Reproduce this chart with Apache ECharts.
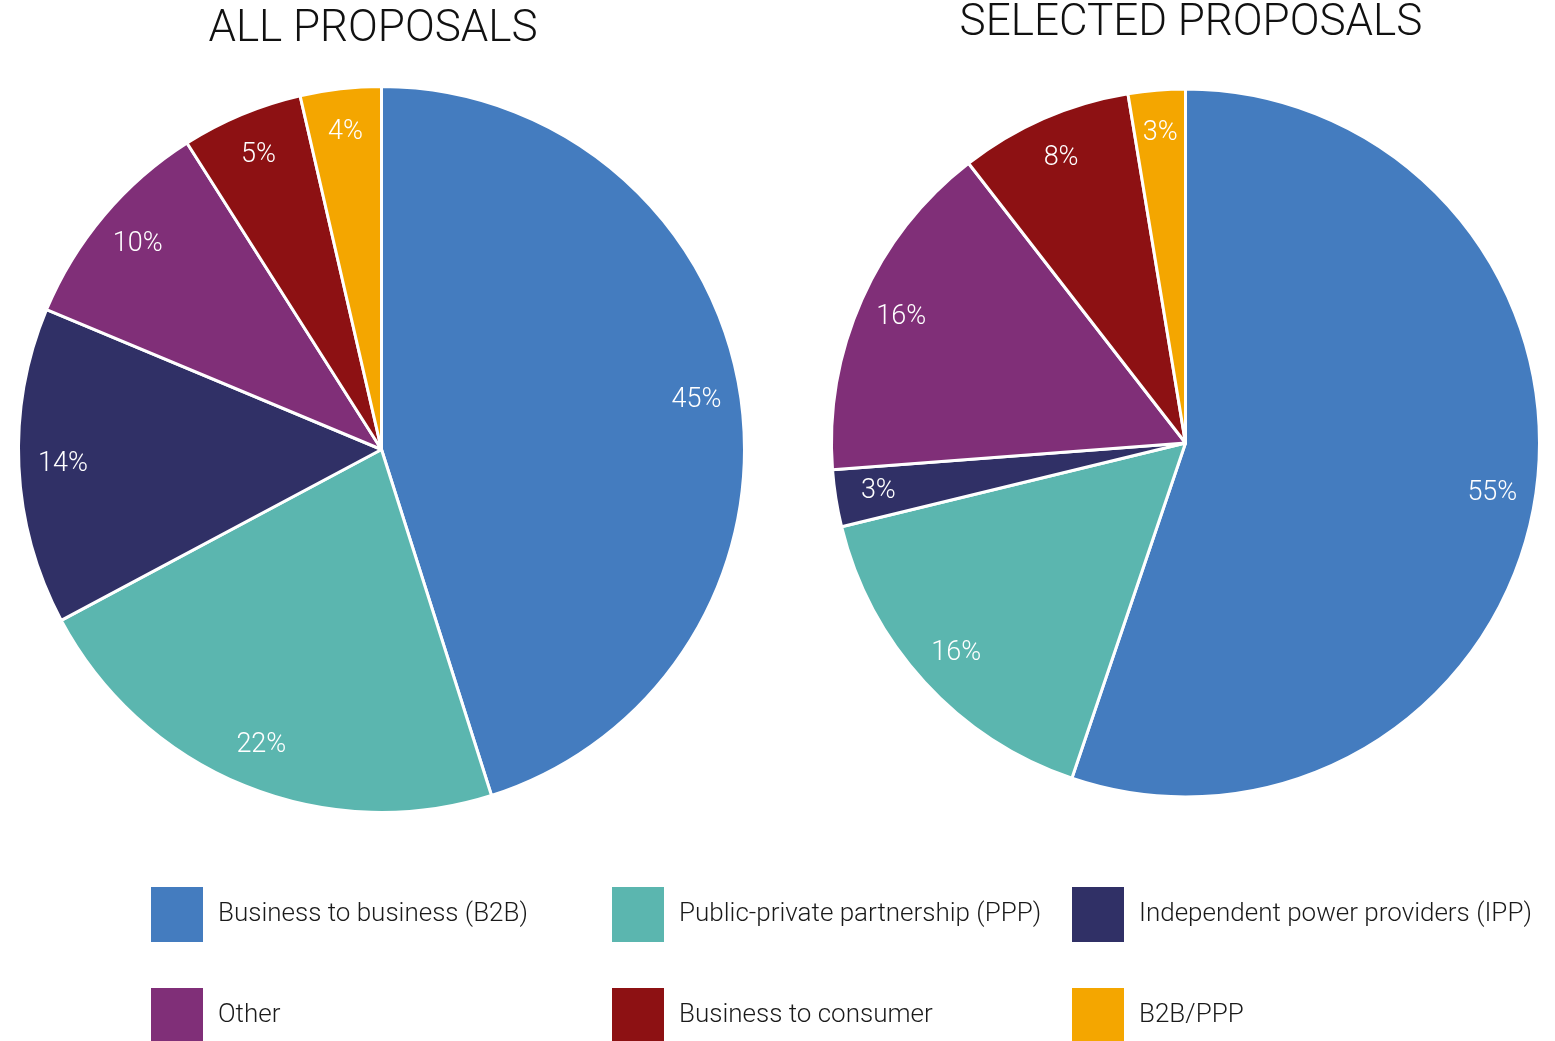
<!DOCTYPE html>
<html>
<head>
<meta charset="utf-8">
<script src="https://cdn.jsdelivr.net/npm/echarts@6/dist/echarts.min.js"></script>
<style>
  html, body { margin: 0; padding: 0; background: #fff; }
  #chart { width: 1555px; height: 1041px; }
</style>
</head>
<body>
<div id="chart"></div>
<script>
const categories = [
  'Business to business (B2B)',
  'Public-private partnership (PPP)',
  'Independent power providers (IPP)',
  'Other',
  'Business to consumer',
  'B2B/PPP'
];
const allProposals = [45.1, 22.1, 14.1, 9.7, 5.4, 3.6];
const selectedProposals = [55.2, 16.0, 2.6, 15.7, 7.9, 2.6];
const chartTitles = ['ALL PROPOSALS', 'SELECTED PROPOSALS'];

const colors = ['#447CBF', '#5BB6AF', '#303066', '#802F78', '#8D1113', '#F4A600'];
const FONT = 'Roboto, "Liberation Sans", sans-serif';

function toData(vals) {
  return categories.map((c, i) => ({ name: c, value: vals[i] }));
}

function pieSeries(vals, center, r) {
  return [
    {
      type: 'pie',
      center: center,
      radius: [0, r],
      startAngle: 90,
      clockwise: true,
      avoidLabelOverlap: false,
      label: { show: false },
      labelLine: { show: false },
      itemStyle: { borderColor: '#ffffff', borderWidth: 3 },
      emphasis: { disabled: true },
      data: toData(vals)
    },
    {
      type: 'pie',
      center: center,
      radius: [r * 0.74, r],
      startAngle: 90,
      clockwise: true,
      silent: true,
      legendHoverLink: false,
      avoidLabelOverlap: false,
      itemStyle: { color: 'rgba(0,0,0,0)', borderWidth: 0 },
      label: {
        show: true,
        position: 'inside',
        color: '#ffffff',
        fontFamily: FONT,
        fontWeight: 300,
        fontSize: 27,
        formatter: p => Math.round(p.percent) + '%'
      },
      labelLine: { show: false },
      emphasis: { disabled: true },
      data: toData(vals)
    }
  ];
}

const legendPos = [
  [149, 885], [610, 885], [1070, 885],
  [149, 986], [610, 986], [1070, 986]
];

const chart = echarts.init(document.getElementById('chart'));
chart.setOption({
  animation: false,
  color: colors,
  title: [
    { text: chartTitles[0], left: 368, top: 3, textAlign: 'center',
      textStyle: { fontFamily: FONT, fontWeight: 300, fontSize: 44, color: '#111' } },
    { text: chartTitles[1], left: 1186, top: -3, textAlign: 'center',
      textStyle: { fontFamily: FONT, fontWeight: 300, fontSize: 44, color: '#111' } }
  ],
  legend: categories.map((c, i) => ({
    data: [c],
    left: legendPos[i][0],
    top: legendPos[i][1],
    padding: 0,
    icon: 'rect',
    itemWidth: 54,
    itemHeight: 57,
    selectedMode: false,
    textStyle: { fontFamily: FONT, fontWeight: 300, fontSize: 26, color: '#1a1a1a', padding: [10, 0, 0, 9] }
  })),
  series: [
    ...pieSeries(allProposals, [381.5, 449.5], 363),
    ...pieSeries(selectedProposals, [1185.5, 443], 354)
  ]
});
</script>
</body>
</html>
